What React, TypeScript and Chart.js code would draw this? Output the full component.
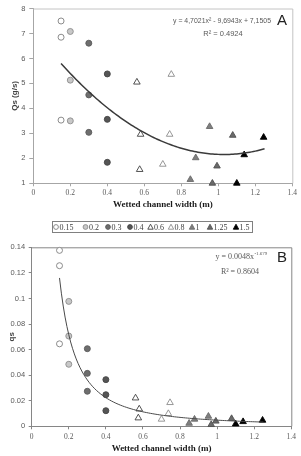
import React, { useEffect, useRef } from "react";
import { Chart, registerables } from "chart.js";
Chart.register(...registerables);

// ---- data ----
const seriesLabels = ["0.15", "0.2", "0.3", "0.4", "0.6", "0.8", "1", "1.25", "1.5"];

const width015 = [0.15, 0.15, 0.15];
const width020 = [0.2, 0.2, 0.2];
const width030 = [0.3, 0.3, 0.3];
const width040 = [0.4, 0.4, 0.4];
const width060 = [0.56, 0.58, 0.575];
const width080 = [0.746, 0.737, 0.7];
const width100 = [0.849, 0.878, 0.953];
const width125 = [0.968, 0.993, 1.078];
const width150 = [1.1, 1.14, 1.245];

const qsA015 = [7.5, 6.85, 3.53];
const qsA020 = [7.08, 5.13, 3.5];
const qsA030 = [6.61, 4.54, 3.04];
const qsA040 = [5.38, 3.56, 1.84];
const qsA060 = [5.05, 2.96, 1.55];
const qsA080 = [5.36, 2.96, 1.76];
const qsA100 = [1.15, 2.02, 3.27];
const qsA125 = [1.0, 1.69, 2.92];
const qsA150 = [1.0, 2.14, 2.84];

const qsB015 = [0.1376, 0.1256, 0.0645];
const qsB020 = [0.0977, 0.0706, 0.0485];
const qsB030 = [0.0607, 0.0414, 0.0274];
const qsB040 = [0.0365, 0.0247, 0.0122];
const qsB060 = [0.0221, 0.0135, 0.0065];
const qsB080 = [0.0185, 0.0099, 0.0055];
const qsB100 = [0.0023, 0.0055, 0.0078];
const qsB125 = [0.0013, 0.004, 0.006];
const qsB150 = [0.0018, 0.0036, 0.0047];

const xTicks = [0, 0.2, 0.4, 0.6, 0.8, 1, 1.2, 1.4];
const yTicksA = [1, 2, 3, 4, 5, 6, 7, 8];
const yTicksB = [0, 0.02, 0.04, 0.06, 0.08, 0.1, 0.12, 0.14];

// trendline coefficients (from the printed equations)
const polyCoefA = [4.7021, -9.6943, 7.1505];
const powerCoefB = [0.0048, -1.679];
const trendRange = [0.15, 1.25];

const widths = [width015, width020, width030, width040, width060, width080, width100, width125, width150];
const valuesA = [qsA015, qsA020, qsA030, qsA040, qsA060, qsA080, qsA100, qsA125, qsA150];
const valuesB = [qsB015, qsB020, qsB030, qsB040, qsB060, qsB080, qsB100, qsB125, qsB150];

// ---- styles ----
const styles = [
  { shape: "circle", bg: "#ffffff", bd: "#7f7f7f" },
  { shape: "circle", bg: "#c8c8c8", bd: "#8c8c8c" },
  { shape: "circle", bg: "#6e6e6e", bd: "#5a5a5a" },
  { shape: "circle", bg: "#555555", bd: "#444444" },
  { shape: "triangle", bg: "#ffffff", bd: "#404040" },
  { shape: "triangle", bg: "#ffffff", bd: "#8c8c8c" },
  { shape: "triangle", bg: "#7f7f7f", bd: "#6a6a6a" },
  { shape: "triangle", bg: "#6a6a6a", bd: "#505050" },
  { shape: "triangle", bg: "#000000", bd: "#000000" },
];
// legend item symbol centres (px from legend box left)
const legendSlots = [4, 33.5, 56, 78, 98.5, 119, 140, 158, 184];

const SANS = "'Liberation Sans', Arial, sans-serif";
const SERIF = "'Liberation Serif', 'Times New Roman', serif";

function trendPoints(fn: (x: number) => number) {
  const pts: { x: number; y: number }[] = [];
  const n = 110;
  for (let i = 0; i <= n; i++) {
    const x = trendRange[0] + ((trendRange[1] - trendRange[0]) * i) / n;
    pts.push({ x, y: fn(x) });
  }
  return pts;
}

function pointDatasets(values: number[][]) {
  return values.map((vals, i) => ({
    type: "scatter" as const,
    label: seriesLabels[i],
    data: vals.map((v, j) => ({ x: widths[i][j], y: v })),
    pointStyle: styles[i].shape,
    pointRadius: styles[i].shape === "circle" ? 3 : 3.8,
    backgroundColor: styles[i].bg,
    borderColor: styles[i].bd,
    borderWidth: 0.9,
    clip: false as any,
    order: 1,
  }));
}

function framePlugin(color: string) {
  return {
    id: "frame",
    beforeDatasetsDraw(chart: any) {
      const { ctx, chartArea } = chart;
      const { left, top, right, bottom } = chartArea;
      ctx.save();
      ctx.strokeStyle = color;
      ctx.lineWidth = 1;
      ctx.beginPath();
      ctx.moveTo(left, top + 0.5);
      ctx.lineTo(right + 0.5, top + 0.5);
      ctx.lineTo(right + 0.5, bottom);
      ctx.stroke();
      ctx.restore();
    },
  };
}

function axisCommon(opts: {
  min: number;
  max: number;
  ticks: number[];
  font: string;
  size: number;
  pad: number;
  tl: number;
  axisColor: string;
}) {
  return {
    type: "linear" as const,
    min: opts.min,
    max: opts.max,
    afterBuildTicks: (s: any) => {
      s.ticks = opts.ticks.map((v) => ({ value: v }));
    },
    ticks: {
      font: { family: opts.font, size: opts.size },
      color: "#595959",
      padding: opts.pad,
      maxRotation: 0,
      autoSkip: false,
      callback: (v: any) => String(Math.round(Number(v) * 1000) / 1000),
    },
    grid: { drawOnChartArea: false, drawTicks: true, tickLength: opts.tl, color: opts.axisColor, lineWidth: 1 },
    border: { color: opts.axisColor, width: 1 },
  };
}

function ChartA() {
  const ref = useRef<HTMLCanvasElement>(null);
  useEffect(() => {
    const fit = (x: number) => polyCoefA[0] * x * x + polyCoefA[1] * x + polyCoefA[2];
    const chart = new Chart(ref.current!, {
      type: "scatter",
      data: {
        datasets: [
          {
            type: "scatter",
            label: "trend",
            data: trendPoints(fit),
            showLine: true,
            pointRadius: 0,
            borderColor: "#3a3a3a",
            borderWidth: 1.5,
            order: 0,
          } as any,
          ...pointDatasets(valuesA),
        ],
      },
      options: {
        animation: false,
        responsive: true,
        maintainAspectRatio: false,
        events: [],
        layout: { padding: { top: 6.7, right: 8.7, left: 0, bottom: 0 } },
        plugins: { legend: { display: false }, tooltip: { enabled: false } },
        scales: {
          x: {
            ...axisCommon({ min: 0, max: 1.4, ticks: xTicks, font: SERIF, size: 7.5, pad: 2.5, tl: 3, axisColor: "#a6a6a6" }),
            title: {
              display: true,
              text: "Wetted channel width (m)",
              font: { family: SERIF, size: 9, weight: "bold" },
              color: "#1a1a1a",
              padding: { top: 0, bottom: 4.6 },
            },
            afterFit: (s: any) => {
              s.height = 31.7;
            },
          } as any,
          y: {
            ...axisCommon({ min: 1, max: 8, ticks: yTicksA, font: SANS, size: 7.5, pad: 4, tl: 4, axisColor: "#a6a6a6" }),
            title: {
              display: true,
              text: "Qs (g/s)",
              font: { family: SANS, size: 8, weight: "bold" },
              color: "#404040",
              padding: { top: 10.2, bottom: 0 },
            },
            afterFit: (s: any) => {
              s.width = 33.3;
            },
          } as any,
        },
      },
      plugins: [
        framePlugin("#c4c4c4"),
        {
          id: "textsA",
          afterDraw(c: any) {
            const ctx = c.ctx;
            ctx.save();
            ctx.fillStyle = "#595959";
            ctx.textAlign = "center";
            ctx.textBaseline = "middle";
            ctx.font = `7.5px ${SANS}`;
            ctx.fillText("y = 4,7021x² - 9,6943x + 7,1505", 222, 21, 98);
            ctx.fillText("R² = 0.4924", 223, 34, 44);
            ctx.fillStyle = "#222222";
            ctx.font = `15px ${SANS}`;
            ctx.fillText("A", 282, 20.5);
            ctx.restore();
          },
        },
      ],
    } as any);
    return () => chart.destroy();
  }, []);
  return (
    <div style={{ position: "absolute", left: 0, top: 0, width: 301, height: 215 }}>
      <canvas ref={ref} />
    </div>
  );
}

function ChartB() {
  const ref = useRef<HTMLCanvasElement>(null);
  useEffect(() => {
    const fit = (x: number) => powerCoefB[0] * Math.pow(x, powerCoefB[1]);
    const chart = new Chart(ref.current!, {
      type: "scatter",
      data: {
        datasets: [
          {
            type: "scatter",
            label: "trend",
            data: trendPoints(fit),
            showLine: true,
            pointRadius: 0,
            borderColor: "#4a4a4a",
            borderWidth: 1,
            order: 0,
          } as any,
          ...pointDatasets(valuesB),
        ],
      },
      options: {
        animation: false,
        responsive: true,
        maintainAspectRatio: false,
        events: [],
        layout: { padding: { top: 11.3, right: 9.7, left: 0, bottom: 0 } },
        plugins: { legend: { display: false }, tooltip: { enabled: false } },
        scales: {
          x: {
            ...axisCommon({ min: 0, max: 1.4, ticks: xTicks, font: SERIF, size: 7.5, pad: 3.5, tl: 3, axisColor: "#868686" }),
            title: {
              display: true,
              text: "Wetted channel width (m)",
              font: { family: SERIF, size: 9, weight: "bold" },
              color: "#1a1a1a",
              padding: { top: 0, bottom: 1.6 },
            },
            afterFit: (s: any) => {
              s.height = 29.7;
            },
          } as any,
          y: {
            ...axisCommon({ min: 0, max: 0.14, ticks: yTicksB, font: SANS, size: 7.5, pad: 3.5, tl: 3, axisColor: "#868686" }),
            title: {
              display: true,
              text: "qs",
              font: { family: SANS, size: 8, weight: "bold" },
              color: "#404040",
              padding: { top: 6.9, bottom: 0 },
            },
            afterFit: (s: any) => {
              s.width = 31.7;
            },
          } as any,
        },
      },
      plugins: [
        framePlugin("#868686"),
        {
          id: "textsB",
          afterDraw(c: any) {
            const ctx = c.ctx;
            ctx.save();
            ctx.fillStyle = "#595959";
            ctx.textBaseline = "middle";
            ctx.textAlign = "left";
            ctx.font = `8px ${SERIF}`;
            const main = "y = 0.0048x";
            const sup = "-1.679";
            const mw = ctx.measureText(main).width;
            ctx.font = `5px ${SERIF}`;
            const sw = ctx.measureText(sup).width;
            const right = 267;
            const start = right - mw - sw;
            ctx.font = `8px ${SERIF}`;
            ctx.fillText(main, start, 20.7);
            ctx.font = `5px ${SERIF}`;
            ctx.fillText(sup, start + mw + 0.3, 17.7);
            ctx.font = `8px ${SERIF}`;
            ctx.textAlign = "center";
            ctx.fillText("R² = 0.8604", 240, 35.7);
            ctx.fillStyle = "#222222";
            ctx.font = `15px ${SANS}`;
            ctx.fillText("B", 282, 22);
            ctx.restore();
          },
        },
      ],
    } as any);
    return () => chart.destroy();
  }, []);
  return (
    <div style={{ position: "absolute", left: 0, top: 236, width: 301, height: 220 }}>
      <canvas ref={ref} />
    </div>
  );
}

function Legend() {
  const ref = useRef<HTMLCanvasElement>(null);
  const W = 201;
  const H = 12;
  useEffect(() => {
    const cv = ref.current!;
    const ctx = cv.getContext("2d")!;
    ctx.clearRect(0, 0, W, H);
    ctx.fillStyle = "#ffffff";
    ctx.fillRect(0, 0, W, H);
    ctx.strokeStyle = "#808080";
    ctx.lineWidth = 1;
    ctx.strokeRect(0.5, 0.5, W - 1, H - 1);
    const cy = 6;
    seriesLabels.forEach((label, i) => {
      const s = styles[i];
      const cx = legendSlots[i];
      ctx.beginPath();
      if (s.shape === "circle") {
        ctx.arc(cx, cy, 2.4, 0, Math.PI * 2);
      } else {
        ctx.moveTo(cx, cy - 2.8);
        ctx.lineTo(cx + 2.7, cy + 2.2);
        ctx.lineTo(cx - 2.7, cy + 2.2);
        ctx.closePath();
      }
      ctx.fillStyle = s.bg;
      ctx.fill();
      ctx.strokeStyle = s.bd;
      ctx.lineWidth = 0.9;
      ctx.stroke();
      ctx.fillStyle = "#404040";
      ctx.font = `8px ${SERIF}`;
      ctx.textAlign = "left";
      ctx.textBaseline = "middle";
      ctx.fillText(label, cx + 3.6, cy + 0.5);
    });
  }, []);
  return (
    <canvas
      ref={ref}
      width={W}
      height={H}
      style={{ position: "absolute", left: 52, top: 221, width: W, height: H, display: "block" }}
    />
  );
}

export default function App() {
  useEffect(() => {
    document.body.style.margin = "0";
    document.body.style.background = "#ffffff";
  }, []);
  return (
    <div style={{ position: "relative", width: 301, height: 456, background: "#ffffff", overflow: "hidden" }}>
      <ChartA />
      <Legend />
      <ChartB />
    </div>
  );
}
